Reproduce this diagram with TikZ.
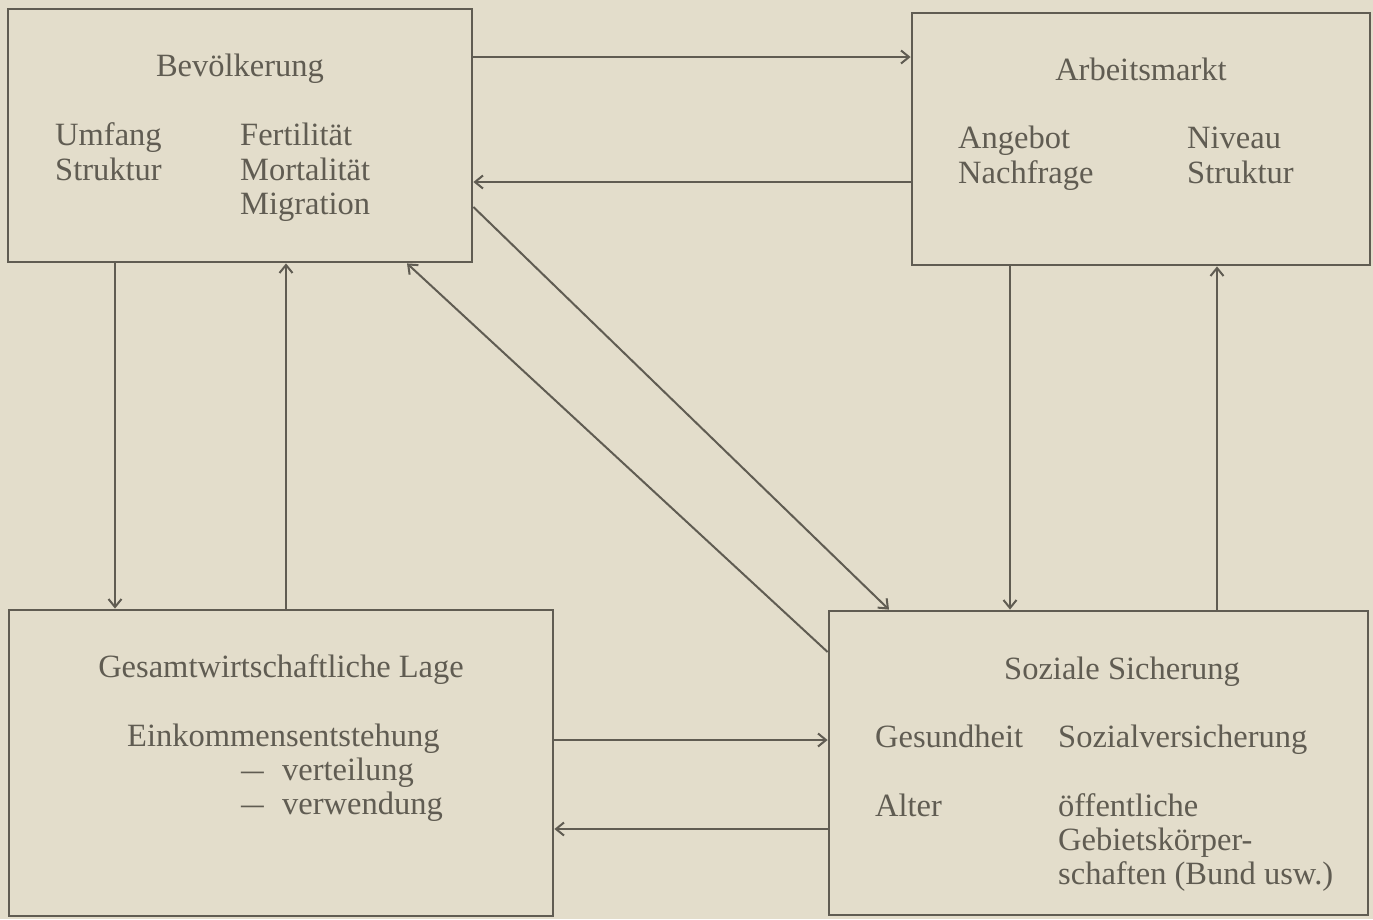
\documentclass[tikz,border=0pt]{standalone}
\usepackage{fontspec}
\setmainfont{Liberation Serif}
\usetikzlibrary{arrows.meta}
\definecolor{paper}{RGB}{227,221,203}
\definecolor{ink}{RGB}{96,92,82}
\tikzset{
  box/.style={draw=ink, line width=2.8pt, rectangle, inner sep=0pt},
  txt/.style={text=ink, inner sep=0pt, anchor=base west, font=\fontsize{32.5}{38}\selectfont},
  ttl/.style={txt, anchor=base},
  arr/.style={draw=ink, line width=2pt, -{Straight Barb[length=8pt,width=13pt,line width=2pt]}},
}
\begin{document}
\begin{tikzpicture}[x=1pt,y=-1pt]
\useasboundingbox (0,0) rectangle (1373,919);
\fill[paper] (0,0) rectangle (1373,919);

% boxes
\node[box, minimum width=464pt, minimum height=253pt] (A) at (240,135.5) {};
\node[box, minimum width=458pt, minimum height=252pt] (B) at (1141,139) {};
\node[box, minimum width=544pt, minimum height=306pt] (C) at (281,763) {};
\node[box, minimum width=539pt, minimum height=304pt] (D) at (1098.5,763) {};

% texts A
\node[ttl] (a0) at (240,76) {Bevölkerung};
\node[txt] (a1) at (55,145) {Umfang};
\node[txt] (a2) at (55,180) {Struktur};
\node[txt] (a3) at (240,145) {Fertilität};
\node[txt] (a4) at (240,180) {Mortalität};
\node[txt] (a5) at (240,214) {Migration};

% texts B
\node[ttl] (b0) at (1141,80) {Arbeitsmarkt};
\node[txt] (b1) at (958,148) {Angebot};
\node[txt] (b2) at (958,183) {Nachfrage};
\node[txt] (b3) at (1187,148) {Niveau};
\node[txt] (b4) at (1187,183) {Struktur};

% texts C
\node[ttl] (c0) at (281,677) {Gesamtwirtschaftliche Lage};
\node[txt] (c1) at (127,746) {Einkommensentstehung};
\node[txt] (c2) at (241,780) {\scalebox{0.7}[1]{—}};
\node[txt] (c3) at (282,780) {verteilung};
\node[txt] (c4) at (241,814) {\scalebox{0.7}[1]{—}};
\node[txt] (c5) at (282,814) {verwendung};

% texts D
\node[ttl] (d0) at (1122,679) {Soziale Sicherung};
\node[txt] (d1) at (875,747) {Gesundheit};
\node[txt] (d2) at (1058,747) {Sozialversicherung};
\node[txt] (d3) at (875,816) {Alter};
\node[txt] (d4) at (1058,816) {öffentliche};
\node[txt] (d5) at (1058,850) {Gebietskörper-};
\node[txt] (d6) at (1058,884) {schaften (Bund usw.)};

% connectors
\draw[arr] (A.east |- 0,57) -- (B.west |- 0,57);
\draw[arr] (B.west |- 0,182) -- (A.east |- 0,182);
\draw[arr] (A.south -| 115,0) -- (C.north -| 115,0);
\draw[arr] (C.north -| 286,0) -- (A.south -| 286,0);
\draw[arr] (B.south -| 1010,0) -- (D.north -| 1010,0);
\draw[arr] (D.north -| 1217,0) -- (B.south -| 1217,0);
\draw[arr] (C.east |- 0,740) -- (D.west |- 0,740);
\draw[arr] (D.west |- 0,829) -- (C.east |- 0,829);
\draw[arr] (A.east |- 0,207) -- (D.north -| 889,0);
\draw[arr] (D.west |- 0,652) -- (A.south -| 407,0);
\end{tikzpicture}
\end{document}
